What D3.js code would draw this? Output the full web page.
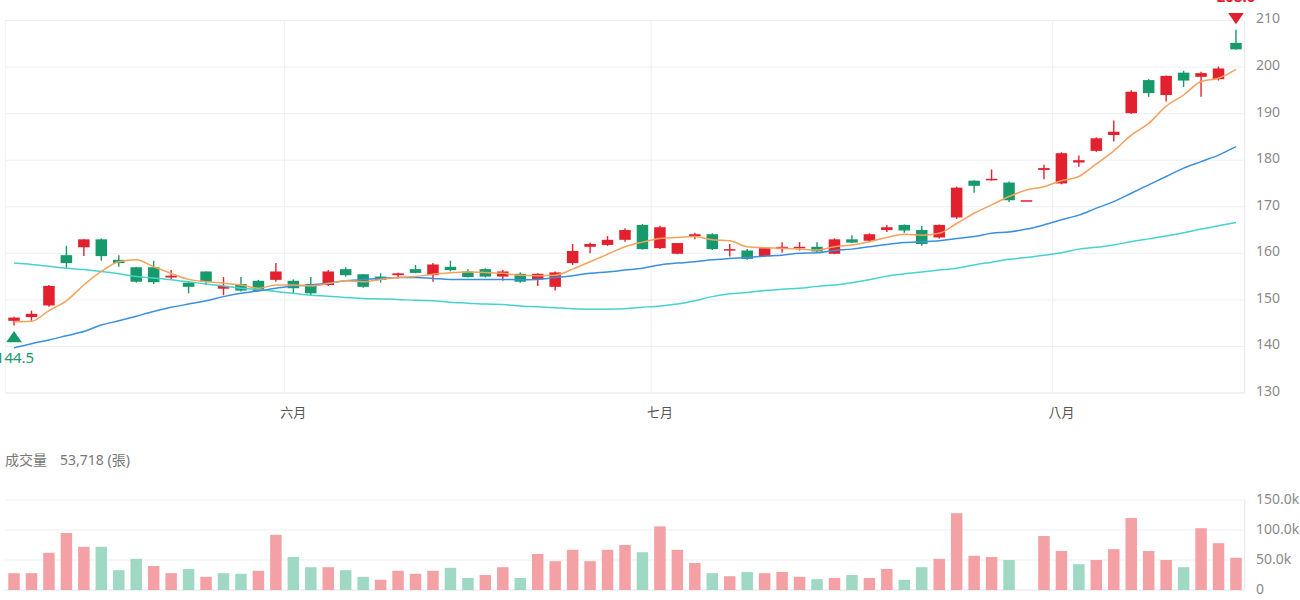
<!DOCTYPE html>
<html>
<head>
<meta charset="utf-8">
<script src="https://cdn.jsdelivr.net/npm/d3@7"></script>
<style>
  body { margin: 0; background: #fff; }
  svg { display: block; font-family: "Noto Sans", "Noto Sans CJK TC", sans-serif; }
</style>
</head>
<body>
<div id="chart"></div>
<script>
// daily candles (price)
const opens = [145.5, 146.3, 148.8, 159.6, 161.3, 163.0, 158.6, 157.0, 157.0, 154.8,
  153.7, 156.1, 152.4, 153.4, 154.1, 154.3, 154.1, 153.4, 153.2, 156.6,
  155.5, 155.0, 155.3, 156.6, 155.3, 157.1, 156.1, 156.6, 155.0, 155.6,
  154.4, 152.8, 157.9, 161.4, 161.8, 162.9, 166.1, 161.1, 159.9, 163.7,
  164.1, 160.6, 160.6, 159.4, 160.9, 161.1, 161.4, 159.9, 163.0, 162.7,
  165.0, 166.1, 165.0, 163.4, 167.7, 175.6, 175.7, 175.2, 171.4, 177.9,
  175.0, 179.5, 182.0, 185.4, 190.1, 197.2, 194.0, 198.8, 197.9, 197.4, 205.2];
const highs = [146.4, 147.7, 153.2, 161.6, 163.0, 163.2, 159.6, 157.1, 158.4, 156.4,
  153.8, 156.1, 154.9, 154.9, 154.3, 157.9, 154.4, 154.9, 156.4, 157.0,
  155.5, 155.7, 155.9, 157.5, 157.9, 158.4, 156.6, 156.8, 156.4, 155.9,
  155.7, 156.1, 162.0, 162.3, 163.7, 165.4, 166.3, 165.9, 162.2, 164.4,
  164.3, 162.0, 160.9, 161.3, 162.4, 162.4, 162.4, 163.2, 163.9, 164.3,
  166.1, 166.2, 165.9, 166.2, 174.3, 175.7, 178.0, 175.4, 171.4, 179.0,
  181.7, 181.0, 184.9, 188.5, 195.0, 197.4, 198.2, 199.2, 199.0, 200.1, 208.0];
const lows = [144.5, 145.5, 148.5, 156.8, 159.4, 158.4, 157.1, 153.7, 153.4, 154.4,
  151.4, 153.2, 151.0, 151.8, 151.9, 153.9, 151.3, 151.0, 153.0, 155.0,
  152.6, 153.7, 154.6, 155.7, 153.9, 156.1, 154.8, 154.8, 154.1, 153.7,
  153.0, 152.0, 157.5, 160.0, 161.6, 162.5, 160.8, 160.9, 159.8, 163.0,
  160.7, 159.3, 158.6, 159.2, 160.1, 160.6, 160.3, 159.8, 162.2, 162.4,
  164.6, 164.4, 161.6, 163.2, 167.4, 173.0, 175.6, 171.0, 171.4, 175.9,
  174.8, 178.6, 181.8, 184.0, 189.9, 193.6, 192.6, 195.7, 193.6, 197.1, 203.7];
const closes = [146.2, 147.0, 153.0, 157.9, 163.0, 159.4, 157.9, 153.9, 153.8, 155.2,
  152.8, 153.9, 153.0, 152.0, 151.9, 156.1, 152.5, 151.4, 156.1, 155.3,
  152.8, 154.3, 155.7, 155.8, 157.6, 156.4, 154.9, 155.0, 156.1, 153.9,
  155.6, 155.9, 160.5, 162.0, 162.9, 165.0, 160.9, 165.6, 162.2, 164.1,
  160.9, 160.9, 158.8, 161.1, 161.4, 161.4, 160.4, 163.0, 162.3, 164.1,
  165.6, 164.9, 162.0, 166.1, 174.1, 174.5, 176.0, 171.4, 171.4, 178.3,
  181.5, 180.0, 184.7, 186.1, 194.7, 194.4, 198.1, 197.1, 198.7, 199.7, 203.8];

// moving averages
const ma5 = [145.3, 145.4, 147.7, 149.8, 153.2, 156.1, 158.2, 158.6, 157.1, 155.7,
  154.4, 153.9, 153.6, 153.2, 152.5, 153.2, 153.2, 153.0, 153.5, 154.1,
  153.9, 154.4, 154.8, 155.0, 155.5, 155.8, 156.0, 155.9, 155.7, 155.3,
  155.2, 155.3, 156.6, 158.2, 159.8, 161.4, 162.4, 163.2, 163.4, 163.6,
  162.9, 162.7, 161.4, 161.2, 161.1, 160.9, 160.7, 161.4, 161.8, 162.5,
  163.4, 164.1, 163.9, 164.3, 166.4, 168.6, 170.4, 172.2, 173.6, 174.3,
  175.6, 176.5, 179.2, 182.0, 185.4, 187.9, 191.6, 194.0, 196.9, 197.6, 199.5];
const ma20 = [139.7, 140.6, 141.4, 142.3, 143.2, 144.6, 145.5, 146.5, 147.5, 148.4,
  149.1, 149.8, 150.7, 151.4, 151.9, 152.5, 153.0, 153.2, 153.6, 154.1,
  154.4, 154.6, 154.8, 154.8, 154.6, 154.4, 154.4, 154.4, 154.4, 154.3,
  154.4, 154.8, 155.2, 155.7, 156.0, 156.4, 156.8, 157.5, 157.9, 158.2,
  158.6, 158.9, 159.1, 159.4, 159.6, 160.0, 160.1, 160.6, 160.9, 161.4,
  161.9, 162.3, 162.5, 162.7, 163.2, 163.6, 164.3, 164.6, 165.2, 166.1,
  167.2, 168.2, 169.7, 171.1, 172.9, 174.7, 176.5, 178.3, 179.7, 181.1, 182.9];
const ma60 = [157.9, 157.6, 157.2, 156.8, 156.5, 156.1, 155.6, 155.0, 154.7, 154.3,
  153.9, 153.4, 153.0, 152.5, 152.2, 151.8, 151.4, 151.0, 150.8, 150.5,
  150.3, 150.2, 150.1, 149.9, 149.8, 149.5, 149.3, 149.1, 149.0, 148.7,
  148.5, 148.3, 148.1, 148.0, 148.0, 148.1, 148.4, 148.7, 149.1, 149.8,
  150.7, 151.3, 151.6, 152.0, 152.3, 152.5, 152.9, 153.2, 153.7, 154.3,
  155.1, 155.6, 156.0, 156.4, 156.8, 157.5, 158.1, 158.7, 159.1, 159.6,
  160.1, 160.9, 161.3, 161.8, 162.5, 163.1, 163.7, 164.4, 165.2, 165.9, 166.6];

// volume (張) and whether the bar is drawn as an up day
const volumes = [28000, 28000, 62000, 95000, 72000, 72000, 33000, 52000, 40000, 28000,
  35000, 22000, 28000, 27000, 32000, 92000, 55000, 38000, 38000, 33000,
  22000, 17000, 32000, 27000, 32000, 37000, 20000, 25000, 38000, 20000,
  60000, 48000, 67000, 48000, 67000, 75000, 63000, 106000, 67000, 45000,
  28000, 23000, 30000, 28000, 30000, 22000, 18000, 20000, 25000, 20000,
  35000, 17000, 38000, 52000, 128000, 57000, 55000, 50000, 0, 90000,
  65000, 43000, 50000, 68000, 120000, 65000, 50000, 38000, 103000, 78000, 53718];
const volUp = [1, 1, 1, 1, 1, 0, 0, 0, 1, 1, 0, 1, 0, 0, 1, 1, 0, 0, 1, 0,
  0, 1, 1, 1, 1, 0, 0, 1, 1, 0, 1, 1, 1, 1, 1, 1, 0, 1, 1, 1,
  0, 1, 0, 1, 1, 1, 0, 1, 0, 1, 1, 0, 0, 1, 1, 1, 1, 0, 1, 1,
  1, 0, 1, 1, 1, 1, 1, 0, 1, 1, 1];

const monthStarts = [16, 37, 60];
const monthLabels = ['六月', '七月', '八月'];
const priceTicks = [130, 140, 150, 160, 170, 180, 190, 200, 210];
const volTicks = [0, 50000, 100000, 150000];

const RED = '#e3202e';
const GREEN = '#16996b';
const GRID = '#eceff6';

const width = 1300;
const height = 600;
const left = 5.3, right = 1244.7;

const svg = d3.select('#chart')
  .append('svg')
  .attr('width', width)
  .attr('height', height);

const candles = opens.map((o, i) => ({
  i, open: o, high: highs[i], low: lows[i], close: closes[i],
  vol: volumes[i], up: volUp[i] === 1,
}));

const x = d3.scaleBand()
  .domain(d3.range(candles.length))
  .range([left, right]);
const cx = (i) => x(i) + x.bandwidth() / 2;
const barW = 11.5;

const y = d3.scaleLinear().domain([130, 210]).range([393, 20.5]);
const yv = d3.scaleLinear().domain([0, 150000]).range([590, 500]);

// ---- price panel grid ----
const grid = svg.append('g');
grid.selectAll('line.h')
  .data(priceTicks)
  .join('line')
  .attr('x1', left).attr('x2', right)
  .attr('y1', (d) => y(d)).attr('y2', (d) => y(d))
  .attr('stroke', (d) => (d === 130 ? '#dfe3ec' : GRID));

grid.selectAll('line.v')
  .data(monthStarts)
  .join('line')
  .attr('x1', (d) => x(d)).attr('x2', (d) => x(d))
  .attr('y1', y(210)).attr('y2', y(130))
  .attr('stroke', GRID);

grid.append('line')
  .attr('x1', left).attr('x2', left)
  .attr('y1', y(210)).attr('y2', y(130))
  .attr('stroke', GRID);
grid.append('line')
  .attr('x1', right).attr('x2', right)
  .attr('y1', y(210)).attr('y2', y(130))
  .attr('stroke', '#e3e6ee');

// price axis labels
svg.append('g')
  .selectAll('text')
  .data(priceTicks)
  .join('text')
  .attr('x', 1256)
  .attr('y', (d) => y(d) - 2)
  .attr('dy', '0.35em')
  .attr('font-size', 14)
  .attr('fill', '#8a8a8a')
  .text((d) => d);

// month labels
svg.append('g')
  .selectAll('text')
  .data(monthStarts)
  .join('text')
  .attr('x', (d) => cx(d))
  .attr('y', 412)
  .attr('dy', '0.35em')
  .attr('text-anchor', 'middle')
  .attr('font-size', 13)
  .attr('fill', '#555')
  .text((d, i) => monthLabels[i]);

// ---- candles ----
const cg = svg.append('g');
const color = (d) => (d.close >= d.open ? RED : GREEN);

cg.selectAll('line')
  .data(candles)
  .join('line')
  .attr('x1', (d) => cx(d.i)).attr('x2', (d) => cx(d.i))
  .attr('y1', (d) => y(d.high)).attr('y2', (d) => y(d.low))
  .attr('stroke', color)
  .attr('stroke-width', 1.4);

cg.selectAll('rect')
  .data(candles)
  .join('rect')
  .attr('x', (d) => cx(d.i) - barW / 2)
  .attr('width', barW)
  .attr('y', (d) => y(Math.max(d.open, d.close)))
  .attr('height', (d) => Math.max(1.5, Math.abs(y(d.open) - y(d.close))))
  .attr('fill', color);

// ---- moving averages ----
const lineGen = d3.line()
  .x((d, i) => cx(i))
  .y((d) => y(d))
  .curve(d3.curveMonotoneX);

[[ma60, '#45d3cf'], [ma20, '#3a8fe0'], [ma5, '#f5a25c']].forEach(([vals, c]) => {
  svg.append('path')
    .datum(vals)
    .attr('d', lineGen)
    .attr('fill', 'none')
    .attr('stroke', c)
    .attr('stroke-width', 1.5);
});

// ---- min / max markers ----
const minIdx = d3.minIndex(lows);
const maxIdx = d3.maxIndex(highs);
const fmt = d3.format('.1f');

svg.append('path')
  .attr('d', d3.symbol(d3.symbolTriangle, 80)())
  .attr('transform', `translate(${cx(minIdx)},${y(lows[minIdx]) + 13}) scale(1.15,0.95)`)
  .attr('fill', GREEN);
svg.append('text')
  .attr('x', cx(minIdx) + 1)
  .attr('y', y(lows[minIdx]) + 32)
  .attr('dy', '0.35em')
  .attr('text-anchor', 'middle')
  .attr('font-size', 15)
  .attr('fill', GREEN)
  .text(fmt(lows[minIdx]));

svg.append('path')
  .attr('d', d3.symbol(d3.symbolTriangle, 80)())
  .attr('transform', `translate(${cx(maxIdx)},${y(highs[maxIdx]) - 13}) rotate(180) scale(1.15,0.95)`)
  .attr('fill', RED);
svg.append('text')
  .attr('x', cx(maxIdx))
  .attr('y', y(highs[maxIdx]) - 28)
  .attr('text-anchor', 'middle')
  .attr('font-size', 15)
  .attr('font-weight', 'bold')
  .attr('fill', RED)
  .text(fmt(highs[maxIdx]));

// ---- volume panel ----
svg.append('text')
  .attr('x', 5)
  .attr('y', 460)
  .attr('dy', '0.35em')
  .attr('font-size', 14)
  .attr('fill', '#777')
  .text('成交量');
svg.append('text')
  .attr('x', 60)
  .attr('y', 460)
  .attr('dy', '0.35em')
  .attr('font-size', 14)
  .attr('fill', '#777')
  .text(`${d3.format(',')(volumes[volumes.length - 1])} (張)`);

svg.append('g')
  .selectAll('line')
  .data(volTicks)
  .join('line')
  .attr('x1', left).attr('x2', right)
  .attr('y1', (d) => yv(d)).attr('y2', (d) => yv(d))
  .attr('stroke', (d) => (d === 0 ? '#dfe3ec' : GRID));

svg.append('line')
  .attr('x1', right).attr('x2', right)
  .attr('y1', yv(150000)).attr('y2', yv(0))
  .attr('stroke', '#e3e6ee');

svg.append('g')
  .selectAll('text')
  .data(volTicks)
  .join('text')
  .attr('x', 1256)
  .attr('y', (d) => yv(d) - 1)
  .attr('dy', '0.35em')
  .attr('font-size', 14)
  .attr('fill', '#8a8a8a')
  .text((d) => (d === 0 ? '0' : d3.format('.1f')(d / 1000) + 'k'));

svg.append('g')
  .selectAll('rect')
  .data(candles.filter((d) => d.vol > 0))
  .join('rect')
  .attr('x', (d) => cx(d.i) - barW / 2)
  .attr('width', barW)
  .attr('y', (d) => yv(d.vol))
  .attr('height', (d) => yv(0) - yv(d.vol))
  .attr('fill', (d) => (d.up ? '#f4a1a6' : '#9fd9c4'));
</script>
</body>
</html>
